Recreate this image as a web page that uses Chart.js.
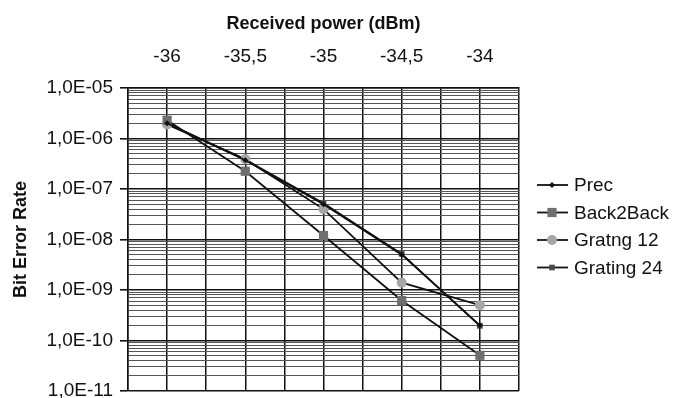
<!DOCTYPE html>
<html>
<head>
<meta charset="utf-8">
<script src="https://cdn.jsdelivr.net/npm/chart.js@4"></script>
<style>
  html, body { margin: 0; padding: 0; background: #fff; }
  #wrap { width: 673px; height: 398px; }
</style>
</head>
<body>
<div id="wrap"><canvas id="berChart"></canvas></div>
<script>
// Received power (dBm) - eixo x
const receivedPower = [-36, -35.5, -35, -34.5, -34];

// Bit error rate por serie
const prec = [2.0e-6, 3.7e-7, 5.0e-8, 5.0e-9, 2.0e-10];
const back2Back = [2.3e-6, 2.25e-7, 1.2e-8, 6.2e-10, 5.1e-11];
const gratng12 = [1.9e-6, 3.9e-7, 4.0e-8, 1.4e-9, 5.0e-10];
const grating24 = [2.0e-6, 3.8e-7, 5.2e-8, 5.2e-9, 1.95e-10];

// decadas do eixo y
const yDecades = [1e-11, 1e-10, 1e-9, 1e-8, 1e-7, 1e-6, 1e-5];

const seriesNames = ["Prec", "Back2Back", "Gratng 12", "Grating 24"];

const toPoints = (vals) => vals.map((v, i) => ({ x: receivedPower[i], y: v }));

const isDecade = (v) => Math.abs(Math.log10(v) - Math.round(Math.log10(v))) < 1e-9;

const fmtSci = (v) => {
  const e = Math.round(Math.log10(v));
  const s = e < 0 ? "-" : "+";
  return "1,0E" + s + String(Math.abs(e)).padStart(2, "0");
};

const datasets = [
  { label: seriesNames[0], data: toPoints(prec), borderColor: "#111", backgroundColor: "#111",
    pointStyle: "rectRot", pointRadius: 3, pointBorderWidth: 0 },
  { label: seriesNames[1], data: toPoints(back2Back), borderColor: "#111", backgroundColor: "#6e6e6e",
    pointStyle: "rect", pointRadius: 6.5, pointBorderWidth: 0 },
  { label: seriesNames[2], data: toPoints(gratng12), borderColor: "#111", backgroundColor: "#a6a6a6",
    pointStyle: "circle", pointRadius: 5, pointBorderWidth: 0 },
  { label: seriesNames[3], data: toPoints(grating24), borderColor: "#111", backgroundColor: "#4a4a4a",
    pointStyle: "rect", pointRadius: 4, pointBorderWidth: 0 },
];
datasets.forEach((d) => {
  d.borderWidth = 1.8;
  d.tension = 0;
  d.pointBorderColor = d.backgroundColor;
  d.pointHoverRadius = d.pointRadius;
});

// legenda desenhada a mao, ao lado do grafico
const sideLegend = {
  id: "sideLegend",
  afterDraw(chart) {
    const ctx = chart.ctx;
    const x0 = 537, x1 = 568, mid = 552;
    const rows = [185, 212.5, 240, 267.5];
    ctx.save();
    chart.data.datasets.forEach((ds, i) => {
      const y = rows[i];
      ctx.strokeStyle = ds.borderColor;
      ctx.lineWidth = 1.8;
      ctx.beginPath();
      ctx.moveTo(x0, y);
      ctx.lineTo(x1, y);
      ctx.stroke();
      ctx.fillStyle = ds.backgroundColor;
      ctx.beginPath();
      const r = ds.pointRadius;
      if (ds.pointStyle === "circle") {
        ctx.arc(mid, y, r, 0, Math.PI * 2);
      } else if (ds.pointStyle === "rect") {
        const s = r * Math.SQRT1_2;
        ctx.rect(mid - s, y - s, 2 * s, 2 * s);
      } else {
        ctx.moveTo(mid, y - r); ctx.lineTo(mid + r, y); ctx.lineTo(mid, y + r); ctx.lineTo(mid - r, y);
        ctx.closePath();
      }
      ctx.fill();
      ctx.fillStyle = "#111";
      ctx.font = "19px 'Liberation Sans', Arial, sans-serif";
      ctx.textBaseline = "middle";
      ctx.textAlign = "left";
      ctx.fillText(ds.label, 574, y + 1);
    });
    ctx.restore();
  },
};

const grafico = document.getElementById("berChart").getContext("2d");

const config = {
  type: "line",
  data: { datasets: datasets },
  plugins: [sideLegend],
  options: {
    responsive: true,
    maintainAspectRatio: false,
    animation: false,
    layout: { padding: { left: 0, top: 0, right: 154, bottom: 7 } },
    plugins: {
      legend: { display: false },
      tooltip: { enabled: false },
    },
    scales: {
      x: {
        type: "linear",
        position: "top",
        min: -36.25,
        max: -33.75,
        afterFit: (scale) => { scale.height = 88; },
        afterBuildTicks: (scale) => {
          const t = [];
          for (let v = scale.min; v <= scale.max + 1e-9; v += 0.25) t.push({ value: Math.round(v * 100) / 100 });
          scale.ticks = t;
        },
        title: {
          display: true,
          text: "Received power (dBm)",
          color: "#111",
          font: { family: "'Liberation Sans', Arial, sans-serif", size: 18, weight: "bold" },
          padding: { top: 13, bottom: 0 },
        },
        ticks: {
          autoSkip: false,
          maxRotation: 0,
          color: "#111",
          padding: 20,
          font: { family: "'Liberation Sans', Arial, sans-serif", size: 19 },
          callback: (v) => {
            const r = Math.round(v * 100) / 100;
            return receivedPower.includes(r) ? String(r).replace(".", ",") : "";
          },
        },
        grid: { color: "#111", lineWidth: 1.5, drawTicks: false },
        border: { color: "#111", width: 1.5 },
      },
      y: {
        type: "logarithmic",
        min: yDecades[0],
        max: yDecades[yDecades.length - 1],
        afterFit: (scale) => {
          scale.width = 128;
          scale.paddingTop = 0;
          scale.paddingBottom = 0;
        },
        afterBuildTicks: (scale) => {
          const t = [];
          for (let i = 0; i < yDecades.length - 1; i++) {
            for (let k = 1; k <= 9; k++) t.push({ value: k * yDecades[i] });
          }
          t.push({ value: yDecades[yDecades.length - 1] });
          scale.ticks = t;
        },
        title: {
          display: true,
          text: "Bit Error Rate",
          color: "#111",
          font: { family: "'Liberation Sans', Arial, sans-serif", size: 18, weight: "bold" },
          padding: { top: 10, bottom: 0 },
        },
        ticks: {
          autoSkip: false,
          color: "#111",
          padding: 7,
          font: { family: "'Liberation Sans', Arial, sans-serif", size: 19 },
          callback: (v) => (isDecade(v) ? fmtSci(v) : ""),
        },
        grid: {
          color: (c) => (c.tick && isDecade(c.tick.value) ? "#111" : "#555"),
          lineWidth: (c) => (c.tick && isDecade(c.tick.value) ? 1.6 : 1),
          tickColor: (c) => (c.tick && isDecade(c.tick.value) ? "#111" : "rgba(0,0,0,0)"),
          tickLength: 8,
        },
        border: { color: "#111", width: 1.5 },
      },
    },
  },
};

document.addEventListener("DOMContentLoaded", () => {
  new Chart(grafico, config);
});
</script>
</body>
</html>
